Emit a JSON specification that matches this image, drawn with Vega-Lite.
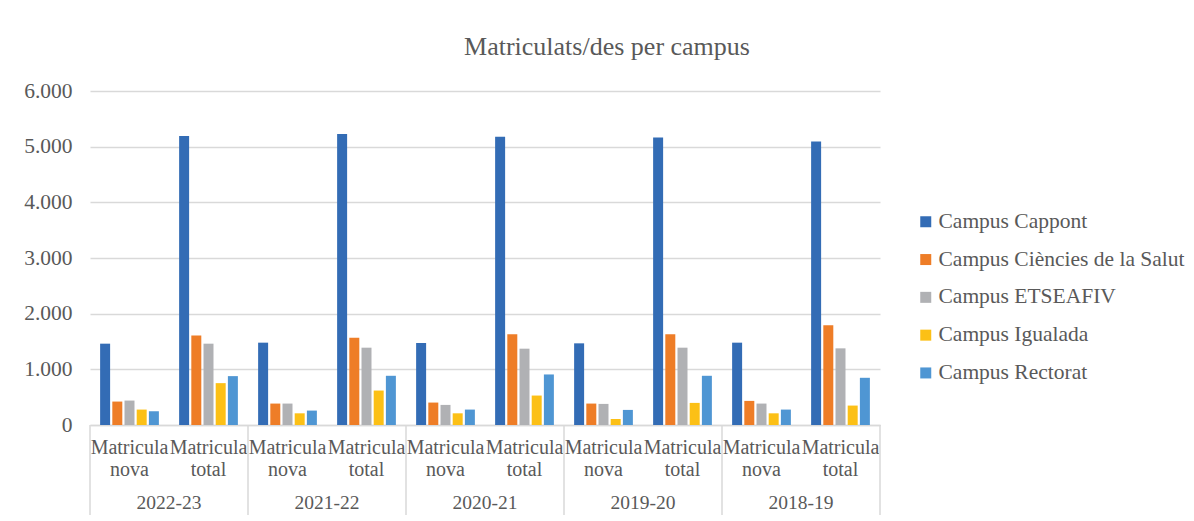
{
  "$schema": "https://vega.github.io/schema/vega-lite/v6.json",
  "width": 790,
  "height": 334,
  "autosize": "none",
  "padding": {"left": 90, "top": 91, "right": 314, "bottom": 96},
  "background": "white",
  "config": {"view": {"stroke": null}},
  "title": {
    "text": "Matriculats/des per campus",
    "font": "Liberation Serif",
    "fontSize": 26,
    "fontWeight": "normal",
    "color": "#595959",
    "anchor": "middle",
    "frame": "group",
    "dx": 122,
    "dy": 25,
    "baseline": "alphabetic",
    "offset": 24
  },
  "data": {
    "values": [
      {"year": "2022-23", "type": "nova", "campus": "Campus Cappont", "value": 1461},
      {"year": "2022-23", "type": "nova", "campus": "Campus Ciències de la Salut", "value": 421},
      {"year": "2022-23", "type": "nova", "campus": "Campus ETSEAFIV", "value": 439},
      {"year": "2022-23", "type": "nova", "campus": "Campus Igualada", "value": 277},
      {"year": "2022-23", "type": "nova", "campus": "Campus Rectorat", "value": 247},
      {"year": "2022-23", "type": "total", "campus": "Campus Cappont", "value": 5190},
      {"year": "2022-23", "type": "total", "campus": "Campus Ciències de la Salut", "value": 1606},
      {"year": "2022-23", "type": "total", "campus": "Campus ETSEAFIV", "value": 1461},
      {"year": "2022-23", "type": "total", "campus": "Campus Igualada", "value": 752},
      {"year": "2022-23", "type": "total", "campus": "Campus Rectorat", "value": 878},
      {"year": "2021-22", "type": "nova", "campus": "Campus Cappont", "value": 1479},
      {"year": "2021-22", "type": "nova", "campus": "Campus Ciències de la Salut", "value": 385},
      {"year": "2021-22", "type": "nova", "campus": "Campus ETSEAFIV", "value": 385},
      {"year": "2021-22", "type": "nova", "campus": "Campus Igualada", "value": 210},
      {"year": "2021-22", "type": "nova", "campus": "Campus Rectorat", "value": 259},
      {"year": "2021-22", "type": "total", "campus": "Campus Cappont", "value": 5226},
      {"year": "2021-22", "type": "total", "campus": "Campus Ciències de la Salut", "value": 1569},
      {"year": "2021-22", "type": "total", "campus": "Campus ETSEAFIV", "value": 1389},
      {"year": "2021-22", "type": "total", "campus": "Campus Igualada", "value": 619},
      {"year": "2021-22", "type": "total", "campus": "Campus Rectorat", "value": 884},
      {"year": "2020-21", "type": "nova", "campus": "Campus Cappont", "value": 1473},
      {"year": "2020-21", "type": "nova", "campus": "Campus Ciències de la Salut", "value": 403},
      {"year": "2020-21", "type": "nova", "campus": "Campus ETSEAFIV", "value": 361},
      {"year": "2020-21", "type": "nova", "campus": "Campus Igualada", "value": 210},
      {"year": "2020-21", "type": "nova", "campus": "Campus Rectorat", "value": 277},
      {"year": "2020-21", "type": "total", "campus": "Campus Cappont", "value": 5177},
      {"year": "2020-21", "type": "total", "campus": "Campus Ciències de la Salut", "value": 1630},
      {"year": "2020-21", "type": "total", "campus": "Campus ETSEAFIV", "value": 1371},
      {"year": "2020-21", "type": "total", "campus": "Campus Igualada", "value": 529},
      {"year": "2020-21", "type": "total", "campus": "Campus Rectorat", "value": 908},
      {"year": "2019-20", "type": "nova", "campus": "Campus Cappont", "value": 1467},
      {"year": "2019-20", "type": "nova", "campus": "Campus Ciències de la Salut", "value": 385},
      {"year": "2019-20", "type": "nova", "campus": "Campus ETSEAFIV", "value": 379},
      {"year": "2019-20", "type": "nova", "campus": "Campus Igualada", "value": 108},
      {"year": "2019-20", "type": "nova", "campus": "Campus Rectorat", "value": 271},
      {"year": "2019-20", "type": "total", "campus": "Campus Cappont", "value": 5165},
      {"year": "2019-20", "type": "total", "campus": "Campus Ciències de la Salut", "value": 1630},
      {"year": "2019-20", "type": "total", "campus": "Campus ETSEAFIV", "value": 1389},
      {"year": "2019-20", "type": "total", "campus": "Campus Igualada", "value": 397},
      {"year": "2019-20", "type": "total", "campus": "Campus Rectorat", "value": 884},
      {"year": "2018-19", "type": "nova", "campus": "Campus Cappont", "value": 1479},
      {"year": "2018-19", "type": "nova", "campus": "Campus Ciències de la Salut", "value": 433},
      {"year": "2018-19", "type": "nova", "campus": "Campus ETSEAFIV", "value": 385},
      {"year": "2018-19", "type": "nova", "campus": "Campus Igualada", "value": 210},
      {"year": "2018-19", "type": "nova", "campus": "Campus Rectorat", "value": 277},
      {"year": "2018-19", "type": "total", "campus": "Campus Cappont", "value": 5093},
      {"year": "2018-19", "type": "total", "campus": "Campus Ciències de la Salut", "value": 1792},
      {"year": "2018-19", "type": "total", "campus": "Campus ETSEAFIV", "value": 1377},
      {"year": "2018-19", "type": "total", "campus": "Campus Igualada", "value": 349},
      {"year": "2018-19", "type": "total", "campus": "Campus Rectorat", "value": 848}
    ]
  },
  "transform": [
    {"calculate": "datum.year + '|' + datum.type", "as": "key"}
  ],
  "layer": [
    {
      "mark": {"type": "bar"},
      "encoding": {
        "x": {
          "field": "key",
          "type": "nominal",
          "sort": null,
          "scale": {"paddingInner": 0, "paddingOuter": 0},
          "axis": {
            "title": null,
            "labelAngle": 0,
            "labelExpr": "['Matricula', split(datum.value, '|')[1]]",
            "labelFont": "Liberation Serif",
            "labelFontSize": 20,
            "labelColor": "#595959",
            "labelLineHeight": 22,
            "labelPadding": 12,
            "ticks": false,
            "tickSize": 0,
            "domain": true,
            "domainColor": "#d9d9d9",
            "domainWidth": 1.5,
            "grid": false
          }
        },
        "xOffset": {
          "field": "campus",
          "type": "nominal",
          "scale": {"paddingInner": 0.18, "paddingOuter": 0.83}
        },
        "y": {
          "field": "value",
          "type": "quantitative",
          "scale": {"domain": [0, 6000], "nice": false},
          "axis": {
            "title": null,
            "values": [0, 1000, 2000, 3000, 4000, 5000, 6000],
            "labelExpr": "replace(format(datum.value, ','), ',', '.')",
            "labelFont": "Liberation Serif",
            "labelFontSize": 21.5,
            "labelColor": "#595959",
            "labelPadding": 18,
            "ticks": false,
            "tickSize": 0,
            "domain": false,
            "grid": true,
            "gridColor": "#d9d9d9",
            "gridWidth": 1.5
          }
        },
        "color": {
          "field": "campus",
          "type": "nominal",
          "scale": {
            "domain": ["Campus Cappont", "Campus Ciències de la Salut", "Campus ETSEAFIV", "Campus Igualada", "Campus Rectorat"],
            "range": ["#336CB5", "#EE7D27", "#B0B1B4", "#FCC016", "#4F96D3"]
          },
          "legend": {
            "title": null,
            "orient": "none",
            "legendX": 825,
            "legendY": 120,
            "padding": 0,
            "symbolType": "square",
            "symbolSize": 121,
            "symbolStrokeWidth": 0,
            "labelFont": "Liberation Serif",
            "labelFontSize": 21.5,
            "labelColor": "#595959",
            "labelOffset": 2,
            "rowPadding": 14.8,
            "labelLimit": 400
          }
        }
      }
    },
    {
      "transform": [{"filter": "datum.type == 'nova' && datum.campus == 'Campus Cappont'"}],
      "mark": {"type": "rule", "color": "#d9d9d9", "strokeWidth": 1.5},
      "encoding": {
        "x": {"field": "key", "type": "nominal", "sort": null, "bandPosition": 0},
        "y": {"datum": 0},
        "y2": {"datum": -1617}
      }
    },
    {
      "transform": [{"filter": "datum.year == '2018-19' && datum.type == 'total' && datum.campus == 'Campus Cappont'"}],
      "mark": {"type": "rule", "color": "#d9d9d9", "strokeWidth": 1.5},
      "encoding": {
        "x": {"field": "key", "type": "nominal", "sort": null, "bandPosition": 1},
        "y": {"datum": 0},
        "y2": {"datum": -1617}
      }
    },
    {
      "transform": [{"filter": "datum.type == 'nova' && datum.campus == 'Campus Cappont'"}],
      "mark": {"type": "text", "font": "Liberation Serif", "fontSize": 19.5, "color": "#595959", "baseline": "middle", "align": "center"},
      "encoding": {
        "x": {"field": "key", "type": "nominal", "sort": null, "bandPosition": 1},
        "y": {"datum": -1401},
        "text": {"field": "year"}
      }
    }
  ]
}
